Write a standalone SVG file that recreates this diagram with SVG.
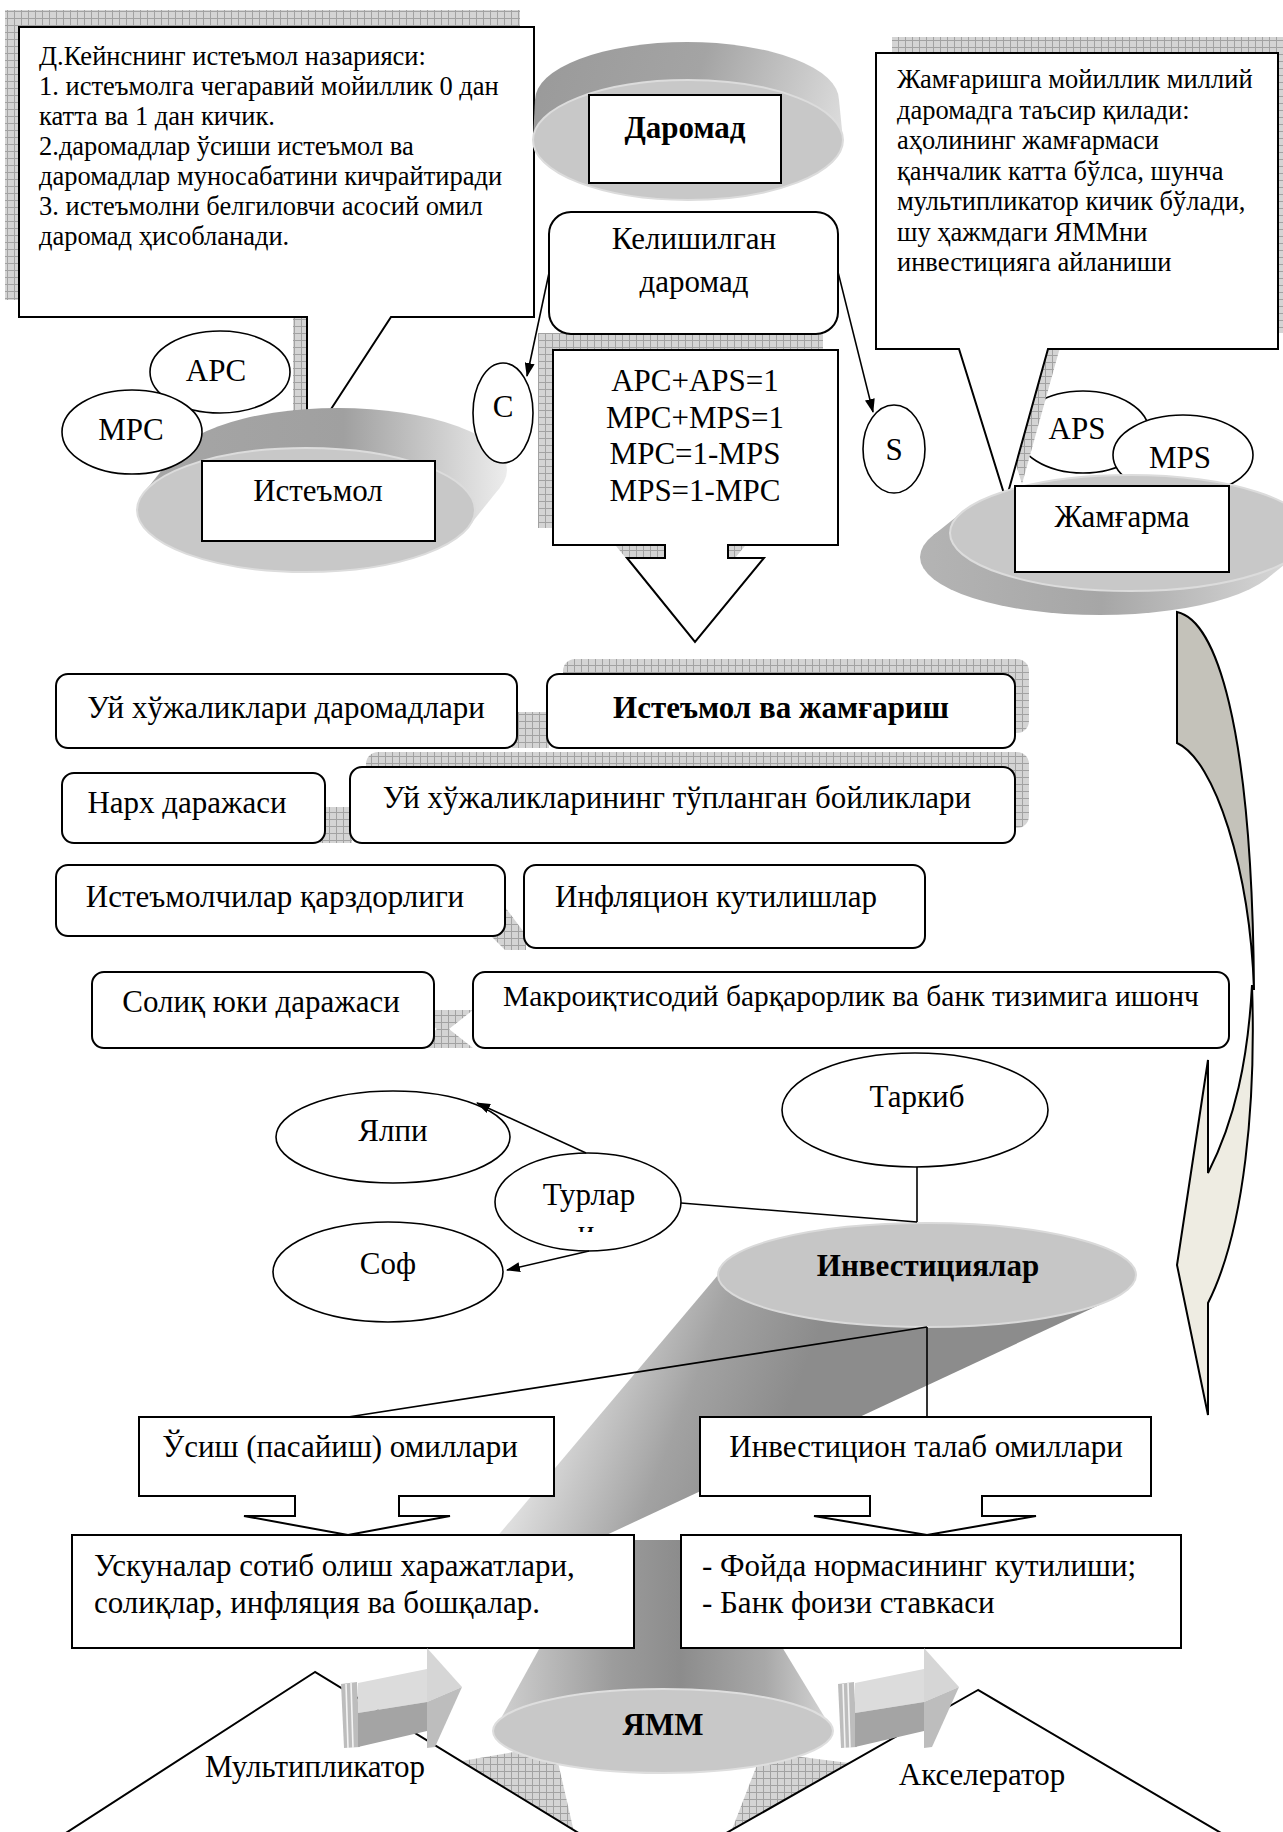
<svg xmlns="http://www.w3.org/2000/svg" width="1283" height="1832" viewBox="0 0 1283 1832">
<defs>
<pattern id="hatch" width="7" height="7" patternUnits="userSpaceOnUse">
<rect width="7" height="7" fill="#d4d4d4"/>
<path d="M0,0.5H7M0.5,0V7" stroke="#a2a2a2" stroke-width="1" fill="none"/>
</pattern>
<linearGradient id="gDar" x1="540" y1="50" x2="840" y2="150" gradientUnits="userSpaceOnUse">
<stop offset="0" stop-color="#9a9a9a"/><stop offset="0.5" stop-color="#a4a4a4"/><stop offset="1" stop-color="#dedede"/>
</linearGradient>
<linearGradient id="gIst" x1="140" y1="0" x2="510" y2="0" gradientUnits="userSpaceOnUse">
<stop offset="0" stop-color="#a6a6a6"/><stop offset="0.55" stop-color="#a0a0a0"/><stop offset="1" stop-color="#eeeeee"/>
</linearGradient>
<linearGradient id="gJam" x1="920" y1="0" x2="1283" y2="0" gradientUnits="userSpaceOnUse">
<stop offset="0" stop-color="#b4b4b4"/><stop offset="0.5" stop-color="#a6a6a6"/><stop offset="1" stop-color="#d6d6d6"/>
</linearGradient>
<linearGradient id="gBand" x1="560" y1="1400" x2="760" y2="1480" gradientUnits="userSpaceOnUse">
<stop offset="0" stop-color="#dedede"/><stop offset="0.55" stop-color="#a2a2a2"/><stop offset="1" stop-color="#8c8c8c"/>
</linearGradient>
<linearGradient id="gCone" x1="494" y1="0" x2="833" y2="0" gradientUnits="userSpaceOnUse">
<stop offset="0" stop-color="#d2d2d2"/><stop offset="0.35" stop-color="#9c9c9c"/><stop offset="0.55" stop-color="#8c8c8c"/><stop offset="0.8" stop-color="#a8a8a8"/><stop offset="1" stop-color="#d8d8d8"/>
</linearGradient>
<marker id="arr" viewBox="0 0 14 10" refX="13" refY="5" markerWidth="14" markerHeight="10" markerUnits="userSpaceOnUse" orient="auto">
<path d="M0,0 L14,5 L0,10 Z" fill="#000"/>
</marker>
<clipPath id="clipTur"><rect x="550" y="1222" width="80" height="10"/></clipPath>
<g id="blk">
<path d="M341,1684 L357,1682 L360,1747 L344,1748 Z" fill="#bdbdbd"/>
<path d="M346,1684 L348,1748 M351,1683 L353,1748" stroke="#f4f4f4" stroke-width="1.6"/>
<path d="M358,1683 L427,1669 L427,1702 L358,1713 Z" fill="#dcdcdc"/>
<path d="M358,1713 L427,1702 L427,1731 L358,1747 Z" fill="#a4a4a4"/>
<path d="M427,1648 L462,1687 L427,1702 Z" fill="#d6d6d6"/>
<path d="M427,1702 L462,1687 L435,1747 L427,1748 Z" fill="#bdbdbd"/>
</g>
</defs>
<style>
.t{font-family:"Liberation Serif","Times New Roman",serif;fill:#000}
.s26{font-size:26.5px}
.s31{font-size:31px}
.s29{font-size:29.5px}
.b{font-weight:bold}
.m{text-anchor:middle}
.box{fill:#fff;stroke:#000;stroke-width:2}
.el{fill:#fff;stroke:#000;stroke-width:1.6}
.ln{fill:none;stroke:#000;stroke-width:1.6}
.hatch{fill:url(#hatch)}
.top{fill:#c8c8c8;stroke:#dcdcdc;stroke-width:2}
</style>
<rect width="1283" height="1832" fill="#fff"/>

<g id="keynes">
<path class="hatch" transform="translate(-14,-17)" d="M19,27 H534 V317 H391 L307,446 V317 H19 Z"/>
<path class="box" d="M19,27 H534 V317 H391 L307,446 V317 H19 Z"/>
<text class="t s26" x="39" y="65">Д.Кейнснинг истеъмол назарияси:</text>
<text class="t s26" x="39" y="95">1. истеъмолга чегаравий мойиллик 0 дан</text>
<text class="t s26" x="39" y="125">катта ва 1 дан кичик.</text>
<text class="t s26" x="39" y="155">2.даромадлар ўсиши истеъмол ва</text>
<text class="t s26" x="39" y="185">даромадлар муносабатини кичрайтиради</text>
<text class="t s26" x="39" y="215">3. истеъмолни белгиловчи асосий омил</text>
<text class="t s26" x="39" y="245">даромад ҳисобланади.</text>
</g>

<g id="formula">
<path class="hatch" transform="translate(-15,-17)" d="M553,350 H838 V545 H728 V558 H764 L695,642 L627,558 H665 V545 H553 Z"/>
<path class="box" d="M553,350 H838 V545 H728 V558 H764 L695,642 L627,558 H665 V545 H553 Z"/>
<text class="t s31 m" x="695" y="391">APC+APS=1</text>
<text class="t s31 m" x="695" y="428">MPC+MPS=1</text>
<text class="t s31 m" x="695" y="464">MPC=1-MPS</text>
<text class="t s31 m" x="695" y="501">MPS=1-MPC</text>
</g>

<g id="kelishilgan">
<rect class="box" x="549" y="212" width="289" height="122" rx="22"/>
<text class="t s31 m" x="694" y="249">Келишилган</text>
<text class="t s31 m" x="694" y="292">даромад</text>
</g>

<g id="daromad">
<ellipse cx="687" cy="100" rx="152" ry="58" fill="url(#gDar)"/>
<path d="M535,100 L839,100 L843,140 L533,140 Z" fill="url(#gDar)"/>
<ellipse class="top" cx="688" cy="140" rx="155" ry="60"/>
<rect class="box" x="589" y="95" width="192" height="88"/>
<text class="t s31 b m" x="685" y="138">Даромад</text>
</g>

<g id="aps"><ellipse class="el" cx="1083" cy="432" rx="66" ry="41"/><text class="t s31 m" x="1077" y="439">APS</text></g>
<g id="mps"><ellipse class="el" cx="1183" cy="455" rx="70" ry="40"/><text class="t s31 m" x="1180" y="468">MPS</text></g>

<g id="jamgarish">
<path class="hatch" transform="translate(16,-16)" d="M876,53 H1278 V349 H1048 L1006,500 L959,349 H876 Z"/>
<path class="box" d="M876,53 H1278 V349 H1048 L1006,500 L959,349 H876 Z"/>
<text class="t s26" x="897" y="88">Жамғаришга мойиллик миллий</text>
<text class="t s26" x="897" y="118.5">даромадга таъсир қилади:</text>
<text class="t s26" x="897" y="149">аҳолининг жамғармаси</text>
<text class="t s26" x="897" y="179.5">қанчалик катта бўлса, шунча</text>
<text class="t s26" x="897" y="210">мультипликатор кичик бўлади,</text>
<text class="t s26" x="897" y="240.5">шу ҳажмдаги ЯММни</text>
<text class="t s26" x="897" y="271">инвестицияга айланиши</text>
</g>

<g id="istemol">
<ellipse cx="338" cy="470" rx="169" ry="62" fill="url(#gIst)"/>
<path d="M144,492.5 L176,452.5 L500,487.5 L468,527.5 Z" fill="url(#gIst)"/>
<ellipse class="top" cx="306" cy="510" rx="169" ry="62"/>
<rect class="box" x="202" y="461" width="233" height="80"/>
<text class="t s31 m" x="318" y="501">Истеъмол</text>
</g>

<g id="apc"><ellipse class="el" cx="220" cy="372" rx="70" ry="41"/><text class="t s31 m" x="216" y="381">APC</text></g>
<g id="mpc"><ellipse class="el" cx="132" cy="432" rx="70" ry="42"/><text class="t s31 m" x="131" y="440">MPC</text></g>

<g id="jamgarma">
<ellipse cx="1100" cy="557" rx="180" ry="58" fill="url(#gJam)"/>
<path d="M963,511.4 L933,535.4 L1267,578.6 L1297,554.6 Z" fill="url(#gJam)"/>
<ellipse class="top" cx="1130" cy="533" rx="180" ry="58"/>
<rect class="box" x="1015" y="486" width="214" height="86"/>
<text class="t s31 m" x="1122" y="527">Жамғарма</text>
</g>

<g id="c"><ellipse class="el" cx="503" cy="413" rx="30" ry="50"/><text class="t s31 m" x="503" y="417">C</text></g>
<g id="s"><ellipse class="el" cx="894" cy="449" rx="31" ry="44"/><text class="t s31 m" x="894" y="460">S</text></g>

<g id="curved-arrow">
<path d="M1177,612 C1215,620 1252,720 1254,990 C1250,870 1215,760 1177,743 Z" fill="#c4c2ba" stroke="#000" stroke-width="2"/>
<path d="M1252,985 C1256,1100 1245,1230 1208,1303 L1208,1415 L1177,1265 L1208,1060 L1208,1173 C1235,1120 1248,1060 1252,985 Z" fill="#eeece2" stroke="#000" stroke-width="2"/>
</g>

<g id="row-connectors">
<rect class="hatch" x="563" y="659" width="466" height="74" rx="12"/>
<rect class="hatch" x="366" y="752" width="663" height="76" rx="12"/>
<path class="hatch" d="M512,712 H549 V748 H512 Z"/>
<path class="hatch" d="M320,807 H352 V843 H320 Z"/>
<path class="hatch" d="M458,907 L505,907 L526,935 L526,950 L505,950 L480,925 Z"/>
<path class="hatch" d="M413,1010 L473,1010 L449,1029 L473,1048 L413,1048 L437,1029 Z"/>
</g>

<g id="r1l"><rect class="box" x="56" y="674" width="461" height="74" rx="12"/><text class="t s31 m" x="286" y="718">Уй хўжаликлари даромадлари</text></g>
<g id="r1r"><rect class="box" x="547" y="674" width="468" height="74" rx="12"/><text class="t s31 b m" x="781" y="718">Истеъмол ва жамғариш</text></g>
<g id="r2l"><rect class="box" x="62" y="773" width="263" height="70" rx="12"/><text class="t s31 m" x="187" y="813">Нарх даражаси</text></g>
<g id="r2r"><rect class="box" x="350" y="767" width="665" height="76" rx="12"/><text class="t s31 m" x="677" y="808">Уй хўжаликларининг тўпланган бойликлари</text></g>
<g id="r3l"><rect class="box" x="56" y="865" width="449" height="71" rx="12"/><text class="t s31 m" x="275" y="907">Истеъмолчилар қарздорлиги</text></g>
<g id="r3r"><rect class="box" x="524" y="865" width="401" height="83" rx="12"/><text class="t s31 m" x="716" y="907">Инфляцион кутилишлар</text></g>
<g id="r4l"><rect class="box" x="92" y="972" width="342" height="76" rx="12"/><text class="t s31 m" x="261" y="1012">Солиқ юки даражаси</text></g>
<g id="r4r"><rect class="box" x="473" y="972" width="756" height="76" rx="12"/><text class="t s29 m" x="851" y="1006">Макроиқтисодий барқарорлик ва банк тизимига ишонч</text></g>

<g id="tarkib"><ellipse class="el" cx="915" cy="1110" rx="133" ry="57"/><text class="t s31 m" x="917" y="1107">Таркиб</text></g>
<g id="yalpi"><ellipse class="el" cx="393" cy="1137" rx="117" ry="46"/><text class="t s31 m" x="393" y="1141">Ялпи</text></g>
<g id="turlar"><ellipse class="el" cx="588" cy="1202" rx="93" ry="49"/><text class="t s31 m" x="589" y="1205">Турлар</text><text class="t s31 m" x="586" y="1242" clip-path="url(#clipTur)">и</text></g>
<g id="sof"><ellipse class="el" cx="388" cy="1272" rx="115" ry="50"/><text class="t s31 m" x="388" y="1274">Соф</text></g>

<g id="ymm-cone"><path d="M494,1731 L599,1540 L717,1540 L833,1731 Z" fill="url(#gCone)"/></g>

<g id="investitsiyalar">
<path d="M718,1275 L1110,1300 L585,1545 L490,1545 Z" fill="url(#gBand)"/>
<ellipse cx="927" cy="1275" rx="209" ry="52" fill="#c6c6c6" stroke="#dadada" stroke-width="2"/>
<text class="t s31 b m" x="928" y="1276">Инвестициялар</text>
</g>

<g id="usish">
<path class="box" d="M139,1417 H554 V1496 H399 V1516 H450 L348,1535 L244,1516 H295 V1496 H139 Z"/>
<text class="t s31 m" x="340" y="1457">Ўсиш (пасайиш) омиллари</text>
</g>
<g id="talab">
<path class="box" d="M700,1417 H1151 V1496 H982 V1516 H1036 L927,1535 L814,1516 H870 V1496 H700 Z"/>
<text class="t s31 m" x="926" y="1457">Инвестицион талаб омиллари</text>
</g>
<g id="uskunalar">
<rect class="box" x="72" y="1535" width="562" height="113"/>
<text class="t s31" x="94" y="1576">Ускуналар сотиб олиш харажатлари,</text>
<text class="t s31" x="94" y="1613">солиқлар, инфляция ва бошқалар.</text>
</g>
<g id="foyda">
<rect class="box" x="681" y="1535" width="500" height="113"/>
<text class="t s31" x="702" y="1576">- Фойда нормасининг кутилиши;</text>
<text class="t s31" x="702" y="1613">- Банк фоизи ставкаси</text>
</g>

<g id="multiplikator">
<path class="hatch" d="M456,1762 L554,1745 L574,1832 L566,1832 Z"/>
<path d="M315,1672 L55,1840 L590,1840 Z" fill="#fff" stroke="#000" stroke-width="2"/>
<text class="t s31 m" x="315" y="1777">Мультипликатор</text>
</g>
<g id="akselerator">
<path class="hatch" d="M762,1752 L849,1763 L729,1832 L731,1832 Z"/>
<path d="M978,1690 L714,1840 L1233,1840 Z" fill="#fff" stroke="#000" stroke-width="2"/>
<text class="t s31 m" x="982" y="1785">Акселератор</text>
</g>

<g id="ymm">
<ellipse cx="663" cy="1731" rx="170" ry="42" fill="#c8c8c8" stroke="#dedede" stroke-width="2"/>
<text class="t s31 b m" x="663" y="1735">ЯММ</text>
</g>

<g id="arrows3d">
<use href="#blk"/>
<use href="#blk" x="497"/>
</g>

<g id="connectors">
<line class="ln" x1="549" y1="273" x2="527" y2="376" marker-end="url(#arr)"/>
<line class="ln" x1="838" y1="272" x2="873" y2="412" marker-end="url(#arr)"/>
<line class="ln" x1="586" y1="1153" x2="477" y2="1103" marker-end="url(#arr)"/>
<line class="ln" x1="589" y1="1251" x2="507" y2="1270" marker-end="url(#arr)"/>
<line class="ln" x1="681" y1="1203" x2="917" y2="1222"/>
<line class="ln" x1="917" y1="1167" x2="917" y2="1222"/>
<line class="ln" x1="927" y1="1327" x2="348" y2="1417"/>
<line class="ln" x1="927" y1="1327" x2="927" y2="1417"/>
</g>
</svg>
